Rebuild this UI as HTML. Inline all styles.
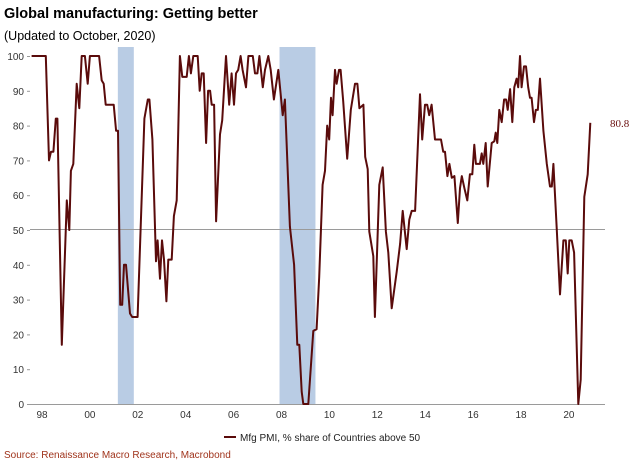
<!DOCTYPE html>
<html><head><meta charset="utf-8"><style>
body{margin:0;background:#fff;}
svg{display:block;font-family:"Liberation Sans",sans-serif;}
</style></head><body>
<svg id="chart" width="640" height="468" viewBox="0 0 640 468">
<text x="4" y="18" font-size="14.5" font-weight="bold" fill="#000">Global manufacturing: Getting better</text>
<text x="4" y="40" font-size="12.5" fill="#000">(Updated to October, 2020)</text>
<g id="bands"></g>
<g id="yaxis"></g>
<g id="xaxis"></g>
<line x1="30" x2="605" y1="229.5" y2="229.5" stroke="#9a9a9a" stroke-width="1"/>
<line x1="30" x2="605" y1="404.5" y2="404.5" stroke="#9a9a9a" stroke-width="1"/>
<path id="series" fill="none" stroke="#5a0b0b" stroke-width="2" stroke-linejoin="round"/>
<text id="lastlabel" x="610" y="130" font-size="11" fill="#6b1010" font-family="Liberation Serif,serif"></text>
<line x1="224" x2="236" y1="437" y2="437" stroke="#5a0b0b" stroke-width="2"/>
<text x="240" y="441" font-size="10" fill="#222">Mfg PMI, % share of Countries above 50</text>
<text x="4" y="458" font-size="10" fill="#a0341c">Source: Renaissance Macro Research, Macrobond</text>
</svg>
<script>
// month index since Jan 1998
const months=[-5.2,1.9,3.5,4.5,5.7,6.9,7.7,9.9,12.4,13.7,14.5,15.7,17.4,18.7,19.9,21.5,22.9,24,28.6,29.9,30.9,31.9,35.9,37.1,38.1,39.2,40.2,41.1,42.1,44.1,45.2,47.9,51.3,53,53.8,55.3,57.1,57.9,59.1,60.1,61.1,62.3,63.3,65,66.1,67.5,69.1,70.3,72.5,73.6,74.6,75.8,78,79,80,81,82.2,83.2,84.2,85,86.2,87.2,89.2,90.3,
92.2,93.8,95,96.2,97.2,98.3,99.5,100.5,102.2,103.4,105.6,106.7,107.9,108.9,110.6,111.7,113.4,114.6,116.2,118.4,120.6,121.7,124.2,126.3,127.9,128.9,130.1,130.9,133.4,135.9,137.6,138.9,140.6,141.8,142.9,143.9,144.8,145.6,146.8,147.6,148.8,149.6,150.9,152.9,154.7,156.8,158,159,161,161.9,163.2,164,166,166.8,169,170.7,172.3,173.5,175.2,177.7,179.4,180.7,182.7,184,185.2,186.9,189.4,
190.5,191.9,193,194,195.2,196.9,199.9,201,201.9,203.1,204.1,205.3,206.6,208.3,209.4,210.3,211.6,213.1,214.4,215.6,216.6,217.4,219.4,220.3,221.1,222.3,223.3,225.3,226.6,227.3,228.1,229.1,230.3,231.5,232.5,233.3,234.5,235.6,236.6,237.8,238.6,239.5,240.3,241.5,242.5,243.6,244.5,245.3,246.5,247.4,248.4,249.5,251.2,252.9,254.5,255.4,256.2,257.9,259.5,261.2,262.4,263.4,264.2,265.4,266.6,268.7,269.9,271.7,273.4,274.7];
const values=[100,100,70,72.5,72.5,82,82,17,58.5,50,67,69,92,85,100,100,92,100,100,93,92,86,86,78.5,78.5,28.5,28.5,40,40,26,25,25,82,87.5,87.5,76,41,47,36,47,41.5,29.5,41.5,41.5,54,58.5,100,94,94,100,95,100,100,90,95,95,75,90,90,86,86,52.5,77.5,81.5,
100,86,95,86,95,96,100,96,91,100,100,95,95,100,91,96,100,96,87.5,96,83,87.5,51,40,17,17,3.5,0,0,21,21.5,36.5,63,67,80,76,88,83,96,92,96,96,87,70.5,84.5,92,92,85,86,71,67.5,49.5,42.5,25,63,68,49.5,43.5,27.5,38,46,55.5,44.5,53,55.5,55.5,89,
76,86,86,83,86,76,76,72.5,72.5,65.5,69,65,65.5,52,62,65.5,62,58.5,66,66,74.5,69,69,72,69,75,62.5,75,75.5,78,75,84.5,81,87.5,87.5,84.5,90.5,81,91,93.5,91,100,91,97,97,91,88,88,81,84.5,84.5,93.5,78.5,69,62.5,62.5,69,50,31.5,47,47,37.5,47,47,43.5,0,7,59.5,66,80.8];
const yTicks=[0,10,20,30,40,50,60,70,80,90,100];
const xTickYears=[1998,2000,2002,2004,2006,2008,2010,2012,2014,2016,2018,2020];
const xTickLabels=["98","00","02","04","06","08","10","12","14","16","18","20"];
const recessionStarts=[38,119];
const recessionEnds=[46,137];
const lastLabel="80.8";

const X=m=>42+m*1.996;
const Y=v=>404-v*3.48;
const ns="http://www.w3.org/2000/svg";
function mk(tag,attrs,parent){const e=document.createElementNS(ns,tag);for(const k in attrs)e.setAttribute(k,attrs[k]);parent.appendChild(e);return e;}
const bands=document.getElementById('bands');
recessionStarts.forEach((s,i)=>{
  const r=mk('rect',{x:X(s),y:47,width:X(recessionEnds[i])-X(s),height:357,fill:'#b9cce4'},bands);
  
  
});
const ya=document.getElementById('yaxis');
yTicks.forEach(v=>{
  const t=mk('text',{x:24,y:Y(v)+4,'font-size':10,'text-anchor':'end',fill:'#333'},ya);
  t.textContent=v;
  
  
  const l=mk('line',{x1:27,x2:30,y1:Y(v)+.5,y2:Y(v)+.5,stroke:'#999'},ya);
  
  
});
const xa=document.getElementById('xaxis');
xTickYears.forEach((yr,i)=>{
  const t=mk('text',{x:X((yr-1998)*12),y:418,'font-size':10,'text-anchor':'middle',fill:'#333'},xa);
  t.textContent=xTickLabels[i];
  
  
});
document.getElementById('series').setAttribute('d',months.map((m,i)=>(i?'L':'M')+X(m).toFixed(1)+','+Y(values[i]).toFixed(1)).join(''));
const ll=document.getElementById('lastlabel');
ll.textContent=lastLabel;
ll.setAttribute('y',Y(values[values.length-1])+4);
</script>
</body></html>
